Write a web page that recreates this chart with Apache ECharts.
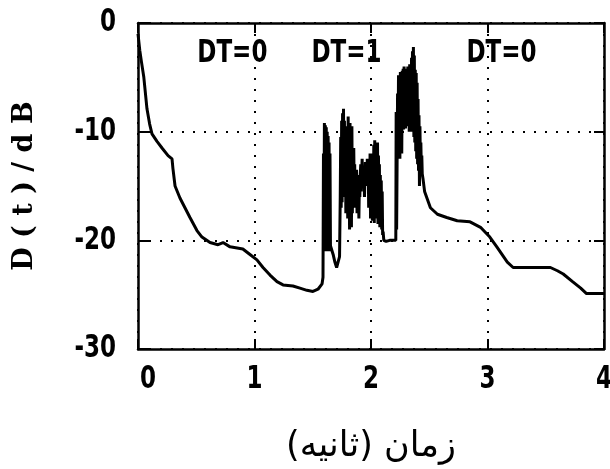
<!DOCTYPE html>
<html>
<head>
<meta charset="utf-8">
<script src="https://cdn.jsdelivr.net/npm/echarts@6/dist/echarts.min.js"></script>
<style>
html,body{margin:0;padding:0;background:#fff;}
#chart{width:610px;height:469px;}
</style>
</head>
<body>
<div id="chart"></div>
<script>
// ---- axis ticks ----
const xTicks = [0, 1, 2, 3, 4];
const yTicks = [0, -10, -20, -30];

// ---- smooth decay before the switching region (time s, level dB) ----
const decayStartTimes = [0, 0.015, 0.03, 0.05, 0.077, 0.10, 0.12, 0.163, 0.206, 0.258, 0.292, 0.30, 0.318, 0.36, 0.403, 0.446, 0.506, 0.549, 0.618, 0.687, 0.73, 0.79, 0.90, 0.961, 1.021, 1.073, 1.133, 1.193, 1.245, 1.33, 1.39, 1.45, 1.502, 1.545, 1.58, 1.588];
const decayStartValues = [-1, -2.5, -3.6, -5, -7.9, -9.3, -10.2, -10.9, -11.5, -12.2, -12.5, -13.4, -15, -16.1, -17, -17.9, -19.1, -19.7, -20.2, -20.4, -20.2, -20.6, -20.8, -21.3, -21.8, -22.5, -23.2, -23.8, -24.1, -24.2, -24.4, -24.6, -24.7, -24.5, -24, -23.4];

// ---- noisy bursts, sampled every burstStep seconds from their start ----
const burstStep = 0.004;
const burst1Start = 1.592;
const burst1Values = [-12, -20, -9.2, -19, -9.4, -21, -9.6, -20.5, -10, -21, -10.4, -20, -11, -21, -12, -20.5];
const gap1Times = [1.662, 1.675, 1.69, 1.705, 1.718, 1.73];
const gap1Values = [-20.5, -21.3, -22, -22.5, -22.6, -21.5];

const burst2Start = 1.736;
const burst2Values = [-16, -10.5, -17, -9, -16.5, -8.3, -15, -7.9, -14.5, -9, -16, -10, -17.5, -9.5, -15, -10.5, -18, -8.6, -17, -11, -19, -9.2, -18.5, -10.8, -18.8, -9.5, -17.5, -12, -16, -11.5, -15.5, -13, -17, -14, -16, -13.5, -17.5, -14, -16.5, -14.5, -18, -15];

const middleStart = 1.904;
const middleValues = [-16, -14, -13, -15.5, -14, -12.5, -15, -13.5, -14.5, -13.5, -16, -14, -12.8, -15, -13.5, -14.8, -12.5, -15];

const burst3Start = 1.976;
const burst3Values = [-12.5, -17, -13, -16.5, -12, -18, -13.5, -17.5, -12.8, -18.2, -12, -17, -11.2, -18.4, -10.8, -17.6, -11.5, -18, -12.5, -16.8, -11, -18.5, -12.2, -17.2, -13, -18.8, -14, -17.5, -14.5, -19, -15.5, -19.5];
const gap3Times = [2.104, 2.11, 2.13, 2.16, 2.19, 2.213];
const gap3Values = [-19.2, -20, -20.1, -20, -20, -20];

const burst4Start = 2.216;
const burst4Values = [-8.2, -19, -13, -6.5, -12.5, -4.8, -11.5, -5.2, -12.5, -4.5, -10.8, -5.5, -12, -4.4, -9.5, -4.2, -9.8, -4, -9, -4.6, -9.7, -4.2, -8.8, -4.8, -9.5, -4, -9.2, -4.5, -10, -3.8, -9.6, -4.4, -10, -3.2, -9, -2.6, -9.8, -2.2, -10.5, -3, -11, -4.3, -11.8, -4.6, -12.5, -5.5, -13, -7, -13.6, -8.5, -15, -9.5, -12.8, -11, -13.4, -12.2, -13.9];

// ---- smooth decay after the switching region ----
const decayEndTimes = [2.446, 2.46, 2.51, 2.57, 2.65, 2.74, 2.85, 2.94, 3.02, 3.08, 3.17, 3.22, 3.30, 3.40, 3.54, 3.60, 3.65, 3.73, 3.80, 3.85, 3.92, 4.0];
const decayEndValues = [-14.3, -15.5, -17.0, -17.6, -17.9, -18.2, -18.3, -18.8, -19.7, -20.6, -22.0, -22.5, -22.5, -22.5, -22.5, -22.8, -23.1, -23.8, -24.4, -24.9, -24.9, -24.9];

// ---- annotations ----
const annotTexts = ['DT=0', 'DT=1', 'DT=0'];
const annotTimes = [0.81, 1.79, 3.12];
const annotValues = [-2.8, -2.8, -2.8];

const yTitle = 'D ( t ) / d B';
const xTitle = 'زمان (ثانیه)';

// ---- build trace ----
function pairs(ts, vs) { return ts.map((t, i) => [t, vs[i]]); }
function sampled(start, vs) { return vs.map((v, i) => [+(start + i * burstStep).toFixed(4), v]); }
const trace = [].concat(
  pairs(decayStartTimes, decayStartValues),
  sampled(burst1Start, burst1Values),
  pairs(gap1Times, gap1Values),
  sampled(burst2Start, burst2Values),
  sampled(middleStart, middleValues),
  sampled(burst3Start, burst3Values),
  pairs(gap3Times, gap3Values),
  sampled(burst4Start, burst4Values),
  pairs(decayEndTimes, decayEndValues)
);

const frame = { show: true, onZero: false, lineStyle: { color: '#000', width: 2.5 } };
const dotted = { show: true, lineStyle: { color: '#000', width: 2, type: [2, 9] } };
const innerTick = len => ({ show: true, inside: true, length: len, lineStyle: { color: '#000', width: 2 } });

const chart = echarts.init(document.getElementById('chart'), null, { renderer: 'canvas' });
chart.setOption({
  animation: false,
  backgroundColor: '#fff',
  grid: { left: 138, right: 6, top: 23, bottom: 116, containLabel: false },
  xAxis: [
    {
      type: 'value', min: xTicks[0], max: xTicks[xTicks.length - 1], interval: 1, position: 'bottom',
      axisLine: frame, axisTick: innerTick(10), axisLabel: { show: false }, splitLine: dotted,
      name: xTitle, nameLocation: 'middle', nameGap: 80,
      nameTextStyle: { fontSize: 35, fontFamily: "'DejaVu Sans', sans-serif", color: '#000' }
    },
    {
      type: 'value', min: xTicks[0], max: xTicks[xTicks.length - 1], interval: 1, position: 'top',
      axisLine: frame, axisTick: innerTick(10), axisLabel: { show: false }, splitLine: { show: false }
    }
  ],
  yAxis: [
    {
      type: 'value', min: yTicks[yTicks.length - 1], max: yTicks[0], interval: 10, position: 'left',
      axisLine: frame, axisTick: innerTick(12), axisLabel: { show: false }, splitLine: dotted,
      name: yTitle, nameLocation: 'middle', nameGap: 100, nameRotate: 90,
      nameTextStyle: { fontSize: 27, fontWeight: 'bold', fontFamily: "'DejaVu Serif', serif", color: '#000' }
    },
    {
      type: 'value', min: yTicks[yTicks.length - 1], max: yTicks[0], interval: 10, position: 'right',
      axisLine: frame, axisTick: innerTick(10), axisLabel: { show: false }, splitLine: { show: false }
    }
  ],
  series: [
    {
      type: 'line', data: trace, showSymbol: false, symbol: 'none',
      lineStyle: { color: '#000', width: 3 }, z: 3
    }
  ]
});

// ---- condensed plotter-style texts placed through the axis scales ----
const plotFont = "bold 32px 'DejaVu Sans', sans-serif";
const squeeze = 0.72;
function label(text, px, py, align) {
  return {
    type: 'text', x: px, y: py, scaleX: squeeze, z: 10,
    style: { text: text, font: plotFont, fill: '#000', align: align, verticalAlign: 'middle',
             textAlign: align, textVerticalAlign: 'middle' }
  };
}
const graphics = [];
yTicks.forEach(v => {
  const p = chart.convertToPixel({ gridIndex: 0 }, [xTicks[0], v]);
  graphics.push(label(String(v), p[0] - 22, p[1], 'right'));
});
xTicks.forEach((t, i) => {
  const p = chart.convertToPixel({ gridIndex: 0 }, [t, yTicks[yTicks.length - 1]]);
  graphics.push(label(String(t), i === 0 ? p[0] + 2 : p[0], p[1] + 31, i === 0 ? 'left' : 'center'));
});
annotTexts.forEach((s, i) => {
  const p = chart.convertToPixel({ gridIndex: 0 }, [annotTimes[i], annotValues[i]]);
  graphics.push(label(s, p[0], p[1], 'center'));
});
chart.setOption({ graphic: graphics });
</script>
</body>
</html>
